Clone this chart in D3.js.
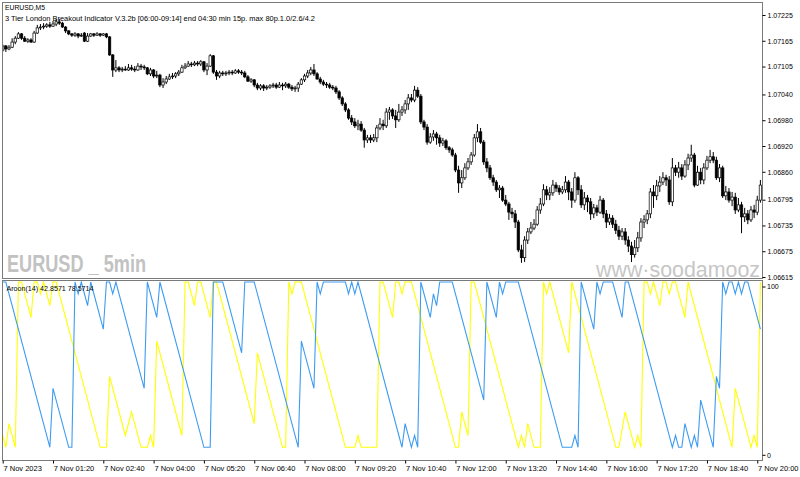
<!DOCTYPE html>
<html><head><meta charset="utf-8">
<script src="https://cdn.jsdelivr.net/npm/d3@7"></script>
<style>html,body{margin:0;padding:0;background:#fff;}svg{display:block;font-family:"Liberation Sans",Arial,sans-serif;}</style>
</head><body><svg id="c" width="800" height="477"></svg>
<script>
const openP=[1.07143,1.07153,1.07146,1.07150,1.07162,1.07171,1.07181,1.07171,1.07164,1.07167,
1.07162,1.07183,1.07195,1.07197,1.07199,1.07202,1.07199,1.07204,1.07209,1.07206,
1.07197,1.07188,1.07181,1.07178,1.07181,1.07176,1.07183,1.07164,1.07176,1.07181,
1.07178,1.07181,1.07178,1.07181,1.07174,1.07132,1.07097,1.07102,1.07097,1.07099,
1.07097,1.07102,1.07099,1.07097,1.07106,1.07104,1.07102,1.07088,1.07097,1.07083,
1.07085,1.07062,1.07069,1.07076,1.07081,1.07083,1.07088,1.07092,1.07102,1.07106,
1.07111,1.07109,1.07113,1.07111,1.07116,1.07097,1.07106,1.07130,1.07092,1.07083,
1.07090,1.07088,1.07090,1.07092,1.07090,1.07095,1.07092,1.07090,1.07081,1.07071,
1.07074,1.07062,1.07055,1.07060,1.07055,1.07057,1.07060,1.07062,1.07057,1.07062,
1.07060,1.07064,1.07057,1.07053,1.07055,1.07064,1.07074,1.07083,1.07090,1.07097,
1.07088,1.07076,1.07069,1.07064,1.07062,1.07057,1.07055,1.07046,1.07032,1.07018,
1.07004,1.06985,1.06976,1.06967,1.06971,1.06957,1.06934,1.06939,1.06934,1.06939,
1.06962,1.06971,1.06967,1.06999,1.07004,1.06990,1.06981,1.06999,1.07004,1.07018,
1.07032,1.07027,1.07050,1.07036,1.06976,1.06964,1.06929,1.06941,1.06948,1.06939,
1.06927,1.06932,1.06916,1.06911,1.06899,1.06864,1.06834,1.06846,1.06869,1.06883,
1.06899,1.06939,1.06953,1.06929,1.06883,1.06869,1.06846,1.06836,1.06818,1.06822,
1.06794,1.06785,1.06766,1.06762,1.06743,1.06678,1.06660,1.06701,1.06720,1.06729,
1.06738,1.06771,1.06785,1.06818,1.06806,1.06811,1.06829,1.06822,1.06813,1.06818,
1.06836,1.06813,1.06794,1.06846,1.06818,1.06783,1.06799,1.06790,1.06762,1.06776,
1.06766,1.06794,1.06762,1.06743,1.06752,1.06738,1.06724,1.06710,1.06720,1.06701,
1.06687,1.06667,1.06683,1.06706,1.06743,1.06748,1.06762,1.06813,1.06804,1.06827,
1.06836,1.06846,1.06841,1.06790,1.06869,1.06859,1.06869,1.06850,1.06876,1.06892,
1.06899,1.06829,1.06859,1.06841,1.06869,1.06887,1.06895,1.06887,1.06846,1.06869,
1.06804,1.06813,1.06794,1.06801,1.06771,1.06783,1.06755,1.06762,1.06748,1.06771,
1.06766,1.06794];
const highP=[1.07157,1.07155,1.07155,1.07171,1.07176,1.07185,1.07183,1.07176,1.07171,1.07171,
1.07188,1.07202,1.07204,1.07206,1.07206,1.07209,1.07211,1.07216,1.07216,1.07209,
1.07199,1.07190,1.07183,1.07185,1.07183,1.07183,1.07185,1.07183,1.07183,1.07183,
1.07185,1.07183,1.07183,1.07183,1.07176,1.07134,1.07120,1.07106,1.07104,1.07106,
1.07111,1.07109,1.07106,1.07113,1.07111,1.07109,1.07104,1.07102,1.07099,1.07095,
1.07088,1.07078,1.07083,1.07088,1.07090,1.07092,1.07097,1.07109,1.07113,1.07118,
1.07116,1.07118,1.07118,1.07120,1.07118,1.07113,1.07134,1.07132,1.07097,1.07095,
1.07095,1.07095,1.07097,1.07097,1.07099,1.07099,1.07097,1.07095,1.07085,1.07078,
1.07076,1.07067,1.07064,1.07064,1.07062,1.07064,1.07067,1.07067,1.07069,1.07067,
1.07069,1.07067,1.07062,1.07060,1.07069,1.07078,1.07088,1.07097,1.07104,1.07111,
1.07092,1.07081,1.07074,1.07069,1.07067,1.07062,1.07060,1.07050,1.07036,1.07022,
1.07008,1.06992,1.06985,1.06981,1.06978,1.06962,1.06946,1.06946,1.06948,1.06969,
1.06985,1.06981,1.07008,1.07011,1.07008,1.07004,1.07018,1.07013,1.07027,1.07041,
1.07041,1.07060,1.07057,1.07041,1.06981,1.06971,1.06950,1.06957,1.06953,1.06946,
1.06939,1.06936,1.06920,1.06916,1.06904,1.06874,1.06864,1.06880,1.06892,1.06906,
1.06948,1.06971,1.06962,1.06934,1.06892,1.06876,1.06853,1.06841,1.06829,1.06827,
1.06806,1.06790,1.06776,1.06771,1.06748,1.06690,1.06710,1.06729,1.06743,1.06750,
1.06780,1.06799,1.06831,1.06827,1.06824,1.06841,1.06836,1.06829,1.06827,1.06850,
1.06841,1.06822,1.06859,1.06850,1.06829,1.06813,1.06806,1.06799,1.06785,1.06783,
1.06804,1.06799,1.06771,1.06762,1.06759,1.06748,1.06734,1.06729,1.06729,1.06710,
1.06697,1.06701,1.06720,1.06752,1.06759,1.06771,1.06822,1.06829,1.06841,1.06850,
1.06859,1.06853,1.06850,1.06892,1.06876,1.06883,1.06878,1.06887,1.06902,1.06923,
1.06904,1.06874,1.06869,1.06880,1.06897,1.06911,1.06906,1.06895,1.06878,1.06874,
1.06827,1.06822,1.06813,1.06811,1.06799,1.06790,1.06776,1.06771,1.06780,1.06783,
1.06804,1.06841];
const lowP=[1.07139,1.07139,1.07143,1.07148,1.07157,1.07169,1.07167,1.07162,1.07160,1.07160,
1.07160,1.07181,1.07190,1.07192,1.07195,1.07195,1.07197,1.07199,1.07202,1.07195,
1.07183,1.07178,1.07174,1.07174,1.07171,1.07174,1.07162,1.07162,1.07174,1.07174,
1.07176,1.07174,1.07176,1.07171,1.07130,1.07081,1.07092,1.07092,1.07092,1.07095,
1.07095,1.07095,1.07092,1.07095,1.07097,1.07097,1.07085,1.07083,1.07078,1.07078,
1.07057,1.07055,1.07064,1.07074,1.07076,1.07078,1.07083,1.07090,1.07099,1.07104,
1.07104,1.07106,1.07106,1.07106,1.07092,1.07085,1.07104,1.07088,1.07074,1.07078,
1.07083,1.07083,1.07085,1.07085,1.07088,1.07088,1.07085,1.07078,1.07069,1.07067,
1.07057,1.07050,1.07050,1.07048,1.07050,1.07053,1.07055,1.07053,1.07055,1.07050,
1.07055,1.07053,1.07048,1.07046,1.07046,1.07062,1.07069,1.07078,1.07085,1.07083,
1.07074,1.07064,1.07060,1.07055,1.07053,1.07050,1.07041,1.07027,1.07013,1.06999,
1.06981,1.06969,1.06962,1.06957,1.06953,1.06916,1.06927,1.06927,1.06929,1.06929,
1.06957,1.06957,1.06962,1.06981,1.06983,1.06962,1.06976,1.06990,1.06995,1.07004,
1.07022,1.07022,1.07032,1.06971,1.06957,1.06923,1.06925,1.06932,1.06923,1.06918,
1.06920,1.06911,1.06904,1.06895,1.06859,1.06811,1.06822,1.06841,1.06864,1.06876,
1.06895,1.06929,1.06925,1.06876,1.06859,1.06841,1.06827,1.06813,1.06799,1.06790,
1.06780,1.06748,1.06752,1.06729,1.06673,1.06648,1.06650,1.06692,1.06715,1.06724,
1.06734,1.06762,1.06780,1.06794,1.06794,1.06804,1.06813,1.06806,1.06808,1.06811,
1.06794,1.06776,1.06788,1.06806,1.06776,1.06771,1.06766,1.06748,1.06752,1.06757,
1.06762,1.06752,1.06729,1.06736,1.06729,1.06715,1.06701,1.06701,1.06690,1.06673,
1.06650,1.06660,1.06673,1.06697,1.06729,1.06738,1.06752,1.06776,1.06794,1.06813,
1.06829,1.06827,1.06783,1.06780,1.06850,1.06846,1.06841,1.06846,1.06864,1.06883,
1.06824,1.06827,1.06831,1.06831,1.06864,1.06880,1.06880,1.06841,1.06836,1.06799,
1.06794,1.06788,1.06780,1.06762,1.06766,1.06717,1.06743,1.06738,1.06743,1.06752,
1.06759,1.06788];
const closeP=[1.07153,1.07146,1.07150,1.07162,1.07171,1.07181,1.07171,1.07164,1.07167,1.07162,
1.07183,1.07195,1.07197,1.07199,1.07202,1.07199,1.07204,1.07209,1.07206,1.07197,
1.07188,1.07181,1.07178,1.07181,1.07176,1.07178,1.07164,1.07176,1.07181,1.07178,
1.07181,1.07178,1.07181,1.07174,1.07132,1.07097,1.07102,1.07097,1.07099,1.07097,
1.07102,1.07099,1.07097,1.07106,1.07104,1.07102,1.07088,1.07097,1.07083,1.07085,
1.07062,1.07069,1.07076,1.07081,1.07083,1.07088,1.07092,1.07102,1.07106,1.07111,
1.07109,1.07113,1.07111,1.07116,1.07097,1.07106,1.07130,1.07092,1.07083,1.07090,
1.07088,1.07090,1.07092,1.07090,1.07095,1.07092,1.07090,1.07081,1.07071,1.07074,
1.07062,1.07055,1.07060,1.07055,1.07057,1.07060,1.07062,1.07057,1.07062,1.07060,
1.07064,1.07057,1.07053,1.07055,1.07064,1.07074,1.07083,1.07090,1.07097,1.07088,
1.07076,1.07069,1.07064,1.07062,1.07057,1.07055,1.07046,1.07032,1.07018,1.07004,
1.06985,1.06976,1.06967,1.06971,1.06957,1.06934,1.06939,1.06934,1.06939,1.06962,
1.06971,1.06967,1.06999,1.07004,1.06990,1.06981,1.06999,1.07004,1.07018,1.07032,
1.07027,1.07050,1.07036,1.06976,1.06964,1.06929,1.06941,1.06948,1.06939,1.06927,
1.06932,1.06916,1.06911,1.06899,1.06864,1.06834,1.06846,1.06869,1.06883,1.06899,
1.06939,1.06953,1.06929,1.06883,1.06869,1.06846,1.06836,1.06818,1.06822,1.06794,
1.06785,1.06766,1.06762,1.06743,1.06678,1.06660,1.06701,1.06720,1.06729,1.06738,
1.06771,1.06785,1.06818,1.06806,1.06811,1.06829,1.06822,1.06813,1.06818,1.06836,
1.06813,1.06794,1.06846,1.06818,1.06783,1.06799,1.06790,1.06762,1.06776,1.06766,
1.06794,1.06762,1.06743,1.06752,1.06738,1.06724,1.06710,1.06720,1.06701,1.06687,
1.06667,1.06683,1.06706,1.06743,1.06748,1.06762,1.06813,1.06804,1.06827,1.06836,
1.06846,1.06841,1.06790,1.06869,1.06859,1.06869,1.06850,1.06876,1.06892,1.06899,
1.06829,1.06859,1.06841,1.06869,1.06887,1.06895,1.06887,1.06846,1.06869,1.06804,
1.06813,1.06794,1.06801,1.06771,1.06783,1.06755,1.06762,1.06748,1.06771,1.06766,
1.06794,1.06829];

// Aroon vertices (bar index, value %)
const downIdx=[0,1,15,16,21,22,23,24,25,27,28,32,33,34,35,36,45,46,49,50,64,66,67,70,76,77,80,94,95,99,100,101,102,109,110,111,112,113,126,127,128,130,131,132,133,136,137,138,139,143,153,154,157,158,159,160,164,178,181,182,183,184,188,189,190,191,194,197,198,199,213,214,215,216,217,219,220,221,222,226,227,228,229,230,231,232,233,234,235,236,237,241];
const downVal=[100,100,0,35.71,0,0,100,92.86,100,85.71,100,71.43,100,100,92.86,100,35.71,100,78.57,100,0,0,100,100,57.14,100,100,0,64.29,35.71,100,92.86,100,100,92.86,100,92.86,100,7.14,0,14.29,0,7.14,0,100,78.57,92.86,85.71,100,100,28.57,100,78.57,100,92.86,100,100,0,0,7.14,0,100,71.43,100,92.86,100,100,78.57,100,100,0,7.14,0,0,14.29,0,7.14,0,28.57,0,42.86,35.71,100,92.86,100,100,92.86,100,92.86,100,100,71.43];
const upIdx=[0,1,2,4,5,6,9,10,11,12,13,15,16,17,31,33,34,39,41,44,46,47,48,49,57,58,59,61,62,63,66,67,68,80,81,89,90,91,92,93,95,109,112,113,114,119,120,121,124,125,126,127,128,130,144,145,146,148,149,150,164,165,166,167,169,171,172,173,174,180,181,195,196,198,201,202,203,204,205,206,207,209,210,211,212,213,214,217,218,232,233,238,239,240,241];
const upVal=[7.14,0,14.29,0,100,100,78.57,100,100,92.86,100,85.71,100,100,0,0,42.86,7.14,21.43,0,0,7.14,0,64.29,7.14,100,100,85.71,100,100,78.57,100,100,14.29,57.14,0,0,100,92.86,100,100,0,0,7.14,0,0,100,100,78.57,100,100,92.86,100,100,0,0,21.43,7.14,100,100,0,7.14,0,14.29,0,0,100,92.86,100,57.14,100,0,0,21.43,0,7.14,0,100,100,92.86,100,85.71,100,100,92.86,100,100,78.57,100,0,35.71,0,7.14,0,100];

const timeIdx=[0,16,32,48,64,80,96,112,128,144,160,176,192,208,224,240];
const timeLabels=["7 Nov 2023","7 Nov 01:20","7 Nov 02:40","7 Nov 04:00","7 Nov 05:20","7 Nov 06:40","7 Nov 08:00","7 Nov 09:20","7 Nov 10:40","7 Nov 12:00","7 Nov 13:20","7 Nov 14:40","7 Nov 16:00","7 Nov 17:20","7 Nov 18:40","7 Nov 20:00"];
const priceTicks=[1.07225,1.07165,1.07105,1.07040,1.06980,1.06920,1.06860,1.06795,1.06735,1.06675,1.06615];
const aroonTicks=[100,0];

const svg=d3.select("#c");
const frameC="#7a7a7a";
const x=d3.scaleLinear().domain([0,241]).range([2.7,2.7+241*3.144]);
const yP=d3.scaleLinear().domain([1.06615,1.07225]).range([277,15]);
const yA=d3.scaleLinear().domain([0,100]).range([447.3,282]);

svg.append("rect").attr("width",800).attr("height",477).attr("fill","#fff");
const defs=svg.append("defs");
defs.append("clipPath").attr("id","cm").append("rect").attr("x",2.5).attr("y",2.5).attr("width",760).attr("height",276);
defs.append("clipPath").attr("id","ca").append("rect").attr("x",2.5).attr("y",281).attr("width",760).attr("height",179.5);

// watermarks
svg.append("text").attr("x",7).attr("y",271.7).attr("font-family","'Liberation Sans Narrow','Liberation Sans',sans-serif")
 .attr("font-weight","bold").attr("font-size",23).attr("fill","#c2c2c2")
 .attr("textLength",139).attr("lengthAdjust","spacingAndGlyphs").text("EURUSD _ 5min");
svg.append("text").attr("x",596).attr("y",276.5).attr("font-size",22).attr("fill","#c6c6c6")
 .attr("textLength",164).attr("lengthAdjust","spacingAndGlyphs").text("www·soodamooz");

// candles
const idx=d3.range(openP.length);
const gC=svg.append("g").attr("clip-path","url(#cm)");
gC.selectAll("line.w").data(idx).join("line").attr("class","w")
 .attr("x1",i=>x(i)).attr("x2",i=>x(i)).attr("y1",i=>yP(highP[i])).attr("y2",i=>yP(lowP[i]))
 .attr("stroke","#000").attr("stroke-width",1);
gC.selectAll("rect.b").data(idx).join("rect").attr("class","b")
 .attr("x",i=>x(i)-1.2).attr("width",2.4)
 .attr("y",i=>yP(Math.max(openP[i],closeP[i])))
 .attr("height",i=>Math.max(0.8,Math.abs(yP(openP[i])-yP(closeP[i]))))
 .attr("fill",i=>closeP[i]>=openP[i]?"#fff":"#000")
 .attr("stroke","#000").attr("stroke-width",0.7);

// aroon
const gA=svg.append("g").attr("clip-path","url(#ca)");
const line=d3.line().x(d=>x(d[0])).y(d=>yA(d[1]));
gA.append("path").datum(upIdx.map((d,i)=>[d,upVal[i]])).attr("d",line).attr("fill","none").attr("stroke","#ffff00").attr("stroke-width",1.1);
gA.append("path").datum(downIdx.map((d,i)=>[d,downVal[i]])).attr("d",line).attr("fill","none").attr("stroke","#3d9bf2").attr("stroke-width",1.1);

// frames
svg.append("rect").attr("x",2.5).attr("y",2.5).attr("width",760).attr("height",276).attr("fill","none").attr("stroke",frameC);
svg.append("rect").attr("x",2.5).attr("y",280.5).attr("width",760).attr("height",180).attr("fill","none").attr("stroke",frameC);

// price axis
const pa=svg.append("g").attr("transform","translate(762.5,0)")
 .call(d3.axisRight(yP).tickValues(priceTicks).tickSize(3).tickPadding(2).tickFormat(d3.format(".5f")));
pa.select(".domain").remove();
pa.selectAll("line").attr("stroke","#000");
pa.selectAll("text").attr("font-size",7).attr("font-family","'Liberation Sans',Arial,sans-serif").attr("fill","#000");

// aroon axis labels
const aa=svg.append("g");
aa.selectAll("text").data(aroonTicks).join("text")
 .attr("x",767).attr("y",d=>yA(d)+(d===100?7.3:10.3))
 .attr("font-size",7).attr("fill","#000").text(d=>d);
aa.selectAll("line").data(aroonTicks).join("line")
 .attr("x1",762.5).attr("x2",765.5).attr("y1",d=>yA(d)+(d===100?5:8)).attr("y2",d=>yA(d)+(d===100?5:8)).attr("stroke","#000");

// time axis
const ta=svg.append("g").attr("transform","translate(0,460.5)")
 .call(d3.axisBottom(x).tickValues(timeIdx).tickSize(3).tickFormat((d,i)=>timeLabels[i]));
ta.select(".domain").remove();
ta.selectAll("line").attr("stroke","#000");
ta.selectAll("text").attr("text-anchor","start").attr("x",0.3).attr("y",10).attr("dy",0)
 .attr("font-size",7.5).attr("font-family","'Liberation Sans',Arial,sans-serif").attr("fill","#000");

// header texts
svg.append("text").attr("x",5).attr("y",9.5).attr("font-size",7.5).attr("fill","#000")
 .attr("textLength",40).attr("lengthAdjust","spacingAndGlyphs").text("EURUSD,M5");
svg.append("text").attr("x",5).attr("y",20.5).attr("font-size",7.5).attr("fill","#000")
 .attr("textLength",310).attr("lengthAdjust","spacingAndGlyphs")
 .text("3 Tier London Breakout Indicator V.3.2b [06:00-09:14] end 04:30 min 15p. max 80p.1.0/2.6/4.2");
svg.append("text").attr("x",6.5).attr("y",291).attr("font-size",7.5).attr("fill","#000")
 .attr("textLength",87).attr("lengthAdjust","spacingAndGlyphs").text("Aroon(14) 42.8571 78.5714");
</script></body></html>
